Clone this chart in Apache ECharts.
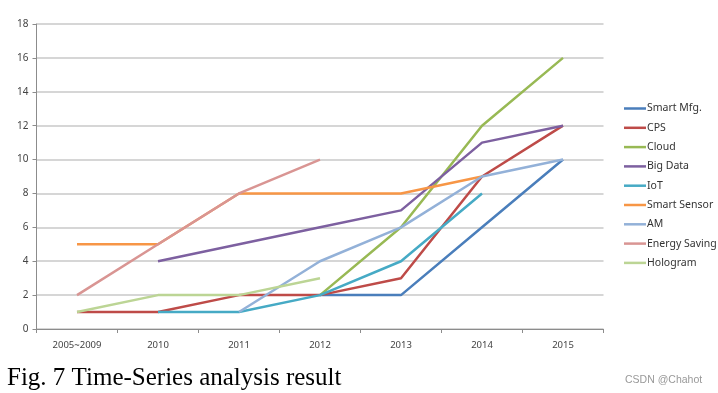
<!DOCTYPE html>
<html>
<head>
<meta charset="utf-8">
<script src="https://cdn.jsdelivr.net/npm/echarts@6/dist/echarts.min.js"></script>
<style>html,body{margin:0;padding:0;background:#fff;}#c{width:718px;height:393px;}</style>
</head>
<body>
<div id="c"></div>
<script>
const categories = ['2005~2009','2010','2011','2012','2013','2014','2015'];
const seriesNames = ['Smart Mfg.','CPS','Cloud','Big Data','IoT','Smart Sensor','AM','Energy Saving','Hologram'];
const smartMfg     = [null, null, null, 2, 2, 6, 10];
const cps          = [1, 1, 2, 2, 3, 9, 12];
const cloud        = [null, null, null, 2, 6, 12, 16];
const bigData      = [null, 4, 5, 6, 7, 11, 12];
const iot          = [null, 1, 1, 2, 4, 8, null];
const smartSensor  = [5, 5, 8, 8, 8, 9, null];
const am           = [null, null, 1, 4, 6, 9, 10];
const energySaving = [2, 5, 8, 10, null, null, null];
const hologram     = [1, 2, 2, 3, null, null, null];
const yTicks = [0, 2, 4, 6, 8, 10, 12, 14, 16, 18];
const colors = ['#4a7ebb','#be4b48','#98b954','#7d60a0','#46aac5','#f79646','#93b1d8','#d99593','#bcd595'];
const allData = [smartMfg, cps, cloud, bigData, iot, smartSensor, am, energySaving, hologram];

const chart = echarts.init(document.getElementById('c'));
chart.setOption({
  animation: false,
  grid: { left: 36.5, right: 114.5, top: 24, bottom: 64 },
  color: colors,
  legend: {
    orient: 'vertical', left: 619, top: 98, itemWidth: 22, itemHeight: 8, itemGap: 8.3,
    icon: 'path://M0,3L22,3L22,5.5L0,5.5Z',
    textStyle: { fontFamily: 'Noto Sans', fontSize: 10.5, color: '#333', padding: [0,0,0,-4] },
    data: seriesNames
  },
  xAxis: {
    type: 'category', data: categories, boundaryGap: true,
    axisLine: { lineStyle: { color: '#8c8c8c', width: 1 } },
    axisTick: { show: true, length: 4, lineStyle: { color: '#8c8c8c' } },
    axisLabel: { fontFamily: 'Noto Sans', fontSize: 9.5, color: '#444', margin: 11 }
  },
  yAxis: {
    type: 'value', min: yTicks[0], max: yTicks[yTicks.length-1], interval: 2,
    axisLine: { show: true, lineStyle: { color: '#8c8c8c', width: 1 } },
    axisTick: { show: true, length: 4, inside: false, lineStyle: { color: '#8c8c8c' } },
    splitLine: { lineStyle: { color: '#c8c8c8', width: 1.5 } },
    axisLabel: { fontFamily: 'Noto Sans', fontSize: 10, color: '#444', margin: 8 }
  },
  series: seriesNames.map((n, i) => ({
    name: n, type: 'line', data: allData[i], showSymbol: false, symbol: 'none',
    connectNulls: false, lineStyle: { width: 2.5, color: colors[i] }
  })),
  graphic: [
    { type: 'text', left: 7, top: 366, style: { text: 'Fig. 7 Time-Series analysis result', font: '25px "Liberation Serif"', fill: '#000' } },
    { type: 'text', left: 625, top: 375, style: { text: 'CSDN @Chahot', font: '10.5px "Liberation Sans"', fill: '#999' } }
  ]
});
</script>
</body>
</html>
